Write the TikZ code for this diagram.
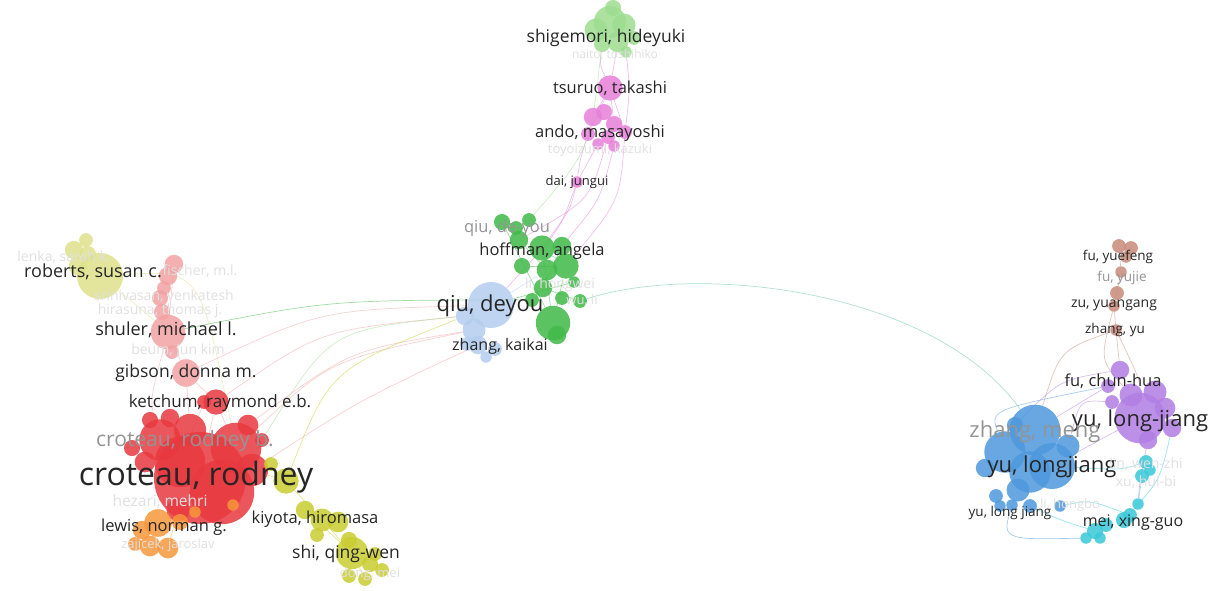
\documentclass[tikz,border=0pt]{standalone}
\usepackage{fontspec}
\setmainfont{Open Sans}
\usetikzlibrary{backgrounds}
\definecolor{cLG}{HTML}{9DDC8F}
\definecolor{cPK}{HTML}{E67FD8}
\definecolor{cGR}{HTML}{40B948}
\definecolor{cLB}{HTML}{B3CDEE}
\definecolor{cRD}{HTML}{E8383F}
\definecolor{cSA}{HTML}{F2A2A2}
\definecolor{cPY}{HTML}{DDE18A}
\definecolor{cOL}{HTML}{C9CC2F}
\definecolor{cOR}{HTML}{F7963A}
\definecolor{cBR}{HTML}{C68A79}
\definecolor{cPU}{HTML}{B17DE3}
\definecolor{cBL}{HTML}{4D98DC}
\definecolor{cCY}{HTML}{3AC8D8}
\definecolor{cARC}{HTML}{9ED8C4}
\tikzset{
  bub/.style={circle,inner sep=0pt,draw=none,fill=#1,fill opacity=0.85},
  lab/.style={inner sep=0pt,font=\fontsize{#1}{#1}\selectfont,text=black!85},
  dimlab/.style={text=black!42},
  faintlab/.style={text=black!12},
  lk/.style={draw=#1,line width=0.7pt,draw opacity=0.5},
}
\newcommand\bubl[5]{\node[bub=#2,minimum size={#5pt*1.15}] (#1) at (#3,#4) {};}
\begin{document}
\begin{tikzpicture}[x=1pt,y=-1pt]
\useasboundingbox (0,0) rectangle (1212,590);
% ---- top light green
\bubl{lg1}{cLG}{610}{22}{28}
\bubl{lg2}{cLG}{596}{30}{20}
\bubl{lg3}{cLG}{624}{25}{20}
\bubl{lg4}{cLG}{618}{42}{18}
\bubl{lg5}{cLG}{602}{44}{14}
\bubl{lg6}{cLG}{613}{8}{14}
\bubl{lg7}{cLG}{634}{38}{12}
\bubl{lg8}{cLG}{626}{52}{10}
% ---- pink
\bubl{pk1}{cPK}{610}{88}{22}
\bubl{pk2}{cPK}{593}{117}{16}
\bubl{pk3}{cPK}{604}{112}{14}
\bubl{pk4}{cPK}{614}{124}{14}
\bubl{pk5}{cPK}{588}{134}{12}
\bubl{pk6}{cPK}{625}{132}{12}
\bubl{pk7}{cPK}{608}{137}{12}
\bubl{pk8}{cPK}{614}{146}{10}
\bubl{pk9}{cPK}{598}{144}{10}
\bubl{pk10}{cPK}{577}{182}{10}
% ---- green
\bubl{gr1}{cGR}{502}{222}{14}
\bubl{gr2}{cGR}{516}{228}{12}
\bubl{gr3}{cGR}{529}{220}{12}
\bubl{gr4}{cGR}{519}{240}{16}
\bubl{gr5}{cGR}{542}{248}{22}
\bubl{gr6}{cGR}{562}{246}{16}
\bubl{gr7}{cGR}{566}{266}{22}
\bubl{gr8}{cGR}{547}{270}{18}
\bubl{gr9}{cGR}{522}{266}{14}
\bubl{gr10}{cGR}{543}{288}{16}
\bubl{gr11}{cGR}{562}{298}{12}
\bubl{gr12}{cGR}{580}{301}{12}
\bubl{gr13}{cGR}{532}{300}{12}
\bubl{gr14}{cGR}{553}{323}{30}
\bubl{gr15}{cGR}{557}{335}{16}
\bubl{gr16}{cGR}{574}{282}{10}
% ---- light blue
\bubl{lb1}{cLB}{491}{305}{40}
\bubl{lb2}{cLB}{474}{330}{20}
\bubl{lb3}{cLB}{465}{316}{16}
\bubl{lb4}{cLB}{478}{345}{16}
\bubl{lb5}{cLB}{495}{349}{12}
\bubl{lb6}{cLB}{486}{357}{10}
\bubl{lb7}{cLB}{467}{344}{12}
% ---- pale yellow
\bubl{py1}{cPY}{100}{276}{40}
\bubl{py2}{cPY}{74}{250}{16}
\bubl{py3}{cPY}{88}{254}{14}
\bubl{py4}{cPY}{78}{266}{16}
\bubl{py5}{cPY}{86}{240}{12}
% ---- salmon
\bubl{sa1}{cSA}{174}{264}{16}
\bubl{sa2}{cSA}{168}{276}{16}
\bubl{sa3}{cSA}{164}{288}{12}
\bubl{sa4}{cSA}{160}{298}{14}
\bubl{sa5}{cSA}{162}{312}{14}
\bubl{sa6}{cSA}{168}{332}{30}
\bubl{sa7}{cSA}{172}{352}{12}
\bubl{sa8}{cSA}{186}{373}{24}
% ---- red
\bubl{rd1}{cRD}{216}{402}{22}
\bubl{rd2}{cRD}{204}{402}{12}
\bubl{rd3}{cRD}{200}{478}{80}
\bubl{rd4}{cRD}{236}{448}{44}
\bubl{rd5}{cRD}{160}{440}{36}
\bubl{rd6}{cRD}{180}{462}{44}
\bubl{rd7}{cRD}{222}{492}{56}
\bubl{rd8}{cRD}{252}{470}{28}
\bubl{rd9}{cRD}{145}{462}{18}
\bubl{rd10}{cRD}{132}{448}{14}
\bubl{rd11}{cRD}{150}{420}{14}
\bubl{rd12}{cRD}{170}{418}{16}
\bubl{rd13}{cRD}{248}{425}{18}
\bubl{rd14}{cRD}{190}{430}{28}
\bubl{rd15}{cRD}{178}{510}{20}
\bubl{rd16}{cRD}{262}{440}{12}
% ---- olive
\bubl{ol1}{cOL}{286}{481}{22}
\bubl{ol2}{cOL}{271}{464}{12}
\bubl{ol3}{cOL}{305}{510}{16}
\bubl{ol4}{cOL}{322}{520}{20}
\bubl{ol5}{cOL}{338}{522}{18}
\bubl{ol6}{cOL}{317}{535}{12}
\bubl{ol7}{cOL}{349}{540}{14}
\bubl{ol8}{cOL}{352}{553}{28}
\bubl{ol9}{cOL}{370}{564}{14}
\bubl{ol10}{cOL}{349}{576}{12}
\bubl{ol11}{cOL}{365}{579}{12}
\bubl{ol12}{cOL}{382}{570}{12}
\bubl{ol13}{cOL}{375}{554}{12}
% ---- orange
\bubl{or1}{cOR}{158}{523}{24}
\bubl{or2}{cOR}{142}{530}{16}
\bubl{or3}{cOR}{150}{546}{18}
\bubl{or4}{cOR}{168}{548}{18}
\bubl{or5}{cOR}{135}{544}{12}
\bubl{or6}{cOR}{180}{522}{14}
\bubl{or7}{cOR}{195}{512}{10}
\bubl{or8}{cOR}{233}{505}{10}
% ---- brown
\bubl{br1}{cBR}{1119}{246}{12}
\bubl{br2}{cBR}{1131}{248}{12}
\bubl{br3}{cBR}{1126}{257}{10}
\bubl{br4}{cBR}{1121}{272}{10}
\bubl{br5}{cBR}{1117}{293}{12}
\bubl{br6}{cBR}{1114}{306}{10}
\bubl{br7}{cBR}{1116}{330}{10}
% ---- purple
\bubl{pu1}{cPU}{1120}{370}{16}
\bubl{pu2}{cPU}{1108}{386}{12}
\bubl{pu3}{cPU}{1131}{395}{20}
\bubl{pu4}{cPU}{1140}{418}{44}
\bubl{pu5}{cPU}{1172}{428}{16}
\bubl{pu6}{cPU}{1155}{392}{20}
\bubl{pu7}{cPU}{1165}{408}{18}
\bubl{pu8}{cPU}{1112}{402}{12}
\bubl{pu9}{cPU}{1148}{440}{16}
% ---- blue
\bubl{bl1}{cBL}{1035}{430}{44}
\bubl{bl2}{cBL}{1005}{452}{36}
\bubl{bl3}{cBL}{1052}{466}{40}
\bubl{bl4}{cBL}{1030}{472}{36}
\bubl{bl5}{cBL}{1018}{490}{20}
\bubl{bl6}{cBL}{996}{496}{12}
\bubl{bl7}{cBL}{1000}{506}{10}
\bubl{bl8}{cBL}{1012}{505}{10}
\bubl{bl9}{cBL}{1030}{506}{12}
\bubl{bl10}{cBL}{1060}{506}{10}
\bubl{bl11}{cBL}{985}{468}{16}
\bubl{bl12}{cBL}{1015}{425}{14}
\bubl{bl13}{cBL}{1068}{446}{20}
% ---- cyan
\bubl{cy1}{cCY}{1146}{462}{12}
\bubl{cy2}{cCY}{1142}{476}{12}
\bubl{cy3}{cCY}{1150}{470}{10}
\bubl{cy4}{cCY}{1138}{504}{10}
\bubl{cy5}{cCY}{1130}{515}{12}
\bubl{cy6}{cCY}{1124}{520}{14}
\bubl{cy7}{cCY}{1106}{525}{12}
\bubl{cy8}{cCY}{1095}{531}{14}
\bubl{cy9}{cCY}{1086}{538}{10}
\bubl{cy10}{cCY}{1100}{538}{10}
% ---- links
\begin{pgfonlayer}{background}
\draw[lk=cARC,draw opacity=0.8] (gr12) .. controls (700,262) and (935,290) .. (bl1);
\draw[lk=cSA] (rd4) .. controls (330,360) .. (lb2);
\draw[lk=cSA] (rd1) .. controls (320,330) .. (lb3);
\draw[lk=cSA] (sa8) .. controls (320,310) .. (lb1);
\draw[lk=cSA] (rd13) .. controls (350,350) .. (lb2);
\draw[lk=cSA] (rd8) .. controls (360,400) .. (lb4);
\draw[lk=cOL] (ol1) .. controls (330,370) .. (lb3);
\draw[lk=cLG] (rd16) .. controls (330,330) .. (lb3);
\draw[lk=cGR] (sa6) .. controls (330,300) .. (gr13);
% top chain
\draw[lk=cPK] (lg4) -- (pk1);
\draw[lk=cPK] (lg5) .. controls (600,65) .. (pk1);
\draw[lk=cPK] (lg8) .. controls (630,90) .. (pk6);
\draw[lk=cPK] (pk1) -- (pk2);
\draw[lk=cPK] (pk1) -- (pk4);
\draw[lk=cPK] (pk1) -- (pk6);
\draw[lk=cPK] (pk1) -- (pk5);
\draw[lk=cPK] (pk5) .. controls (580,160) .. (pk10);
\draw[lk=cPK] (pk9) -- (pk10);
\draw[lk=cPK] (pk10) .. controls (570,210) .. (gr5);
\draw[lk=cPK] (pk8) .. controls (600,200) .. (gr6);
\draw[lk=cPK] (pk6) .. controls (620,200) .. (gr7);
\draw[lk=cPK] (pk7) .. controls (590,200) .. (gr4);
\draw[lk=cPK] (pk10) .. controls (560,230) .. (lb1);
\draw[lk=cLG] (lg5) .. controls (590,150) .. (gr3);
% green internal
\draw[lk=cGR] (gr5) -- (gr7);
\draw[lk=cGR] (gr5) -- (gr14);
\draw[lk=cGR] (gr7) -- (gr14);
\draw[lk=cGR] (gr4) -- (gr8);
\draw[lk=cGR] (gr9) -- (gr7);
\draw[lk=cGR] (gr10) -- (gr12);
\draw[lk=cGR] (gr6) -- (gr10);
\draw[lk=cGR] (gr1) -- (gr14);
\draw[lk=cGR] (gr16) -- (lb1);
\draw[lk=cLB] (lb1) -- (gr8);
% left internal
\draw[lk=cSA] (sa1) -- (sa6);
\draw[lk=cSA] (sa6) -- (sa8);
\draw[lk=cSA] (sa8) -- (rd1);
\draw[lk=cSA] (sa6) .. controls (150,400) .. (rd5);
\draw[lk=cSA] (sa8) -- (rd14);
\draw[lk=cSA] (rd1) -- (rd4);
\draw[lk=cSA] (rd1) -- (rd3);
\draw[lk=cSA] (rd2) -- (rd6);
\draw[lk=cPY] (py1) .. controls (130,300) .. (sa6);
\draw[lk=cPY] (py1) .. controls (200,270) .. (rd4);
\draw[lk=cOL] (ol1) -- (ol4);
\draw[lk=cOL] (ol4) -- (ol8);
\draw[lk=cOL] (ol3) -- (ol8);
\draw[lk=cOL] (ol8) -- (ol11);
\draw[lk=cOL] (ol1) -- (rd8);
\draw[lk=cOR] (or1) -- (rd3);
\draw[lk=cOR] (or6) -- (rd7);
\draw[lk=cOR] (or8) -- (rd7);
\draw[lk=cOR] (or4) -- (rd15);
% right internal
\draw[lk=cBR] (br1) -- (br4);
\draw[lk=cBR] (br4) -- (br6);
\draw[lk=cBR] (br6) -- (br7);
\draw[lk=cBR] (br7) -- (pu1);
\draw[lk=cBR] (br6) .. controls (1100,360) .. (pu3);
\draw[lk=cBR] (br7) .. controls (1140,380) .. (pu4);
\draw[lk=cBR] (br7) .. controls (1060,350) .. (bl1);
\draw[lk=cPU] (pu2) -- (bl1);
\draw[lk=cPU] (pu8) .. controls (1080,400) .. (bl13);
\draw[lk=cPU] (pu1) .. controls (1060,380) .. (bl12);
\draw[lk=cPU] (pu4) -- (bl3);
\draw[lk=cPU] (pu9) .. controls (1140,480) .. (cy4);
\draw[lk=cCY] (cy1) .. controls (1120,470) .. (bl3);
\draw[lk=cCY] (cy2) -- (cy4);
\draw[lk=cCY] (cy5) .. controls (1090,500) .. (bl10);
\draw[lk=cCY] (cy8) .. controls (1060,520) .. (bl9);
\draw[lk=cCY] (cy6) .. controls (1160,480) .. (pu5);
\draw[lk=cBL] (bl5) .. controls (1000,540) .. (cy9);
\draw[lk=cBL] (bl2) .. controls (990,410) .. (pu2);
\end{pgfonlayer}
% ---- labels
\node[lab=17.5] (lshig) at (606,38) {shigemori, hideyuki};
\node[lab=12,faintlab] (lnaito) at (615,55) {naito, toshihiko};
\node[lab=16.5] (ltsur) at (610,88) {tsuruo, takashi};
\node[lab=16.5] (lando) at (600,133) {ando, masayoshi};
\node[lab=13,faintlab] (ltoyo) at (600,150) {toyoizumi, kazuki};
\node[lab=13] (ldai) at (577,182) {dai, jungui};
\node[lab=16.5,dimlab] (lqiude) at (507,228) {qiu, de-you};
\node[lab=16.5] (lhoff) at (542,251) {hoffman, angela};
\node[lab=14,faintlab] (llihong) at (560,285) {li, hongwei};
\node[lab=13,faintlab] (lwuli) at (582,300) {wu, li};
\node[lab=22] (lqiu) at (490,306) {qiu, deyou};
\node[lab=16] (lzhangk) at (500,346) {zhang, kaikai};
\node[lab=14,faintlab] (llenka) at (64,257) {lenka, sarah k.};
\node[lab=18] (lrob) at (93,272) {roberts, susan c.};
\node[lab=14,faintlab] (lfisch) at (200,271) {fischer, m.l.};
\node[lab=14,faintlab] (lsrini) at (164,296) {srinivasan, venkatesh};
\node[lab=14,faintlab] (lhira) at (160,311) {hirasuna, thomas j.};
\node[lab=18] (lshul) at (166,330) {shuler, michael l.};
\node[lab=14,faintlab] (lbeum) at (178,351) {beum, jun kim};
\node[lab=17.5] (lgib) at (186,373) {gibson, donna m.};
\node[lab=17] (lketch) at (220,403) {ketchum, raymond e.b.};
\node[lab=21,dimlab] (lcrob) at (185,441) {croteau, rodney b.};
\node[lab=32] (lcro) at (196,477) {croteau, rodney};
\node[lab=15.5,faintlab] (lhez) at (160,502) {hezari, mehri};
\node[lab=16.5] (llewis) at (164,527) {lewis, norman g.};
\node[lab=13,faintlab] (lzaj) at (168,545) {zajicek, jaroslav};
\node[lab=16.5] (lkiy) at (315,519) {kiyota, hiromasa};
\node[lab=17.5] (lshi) at (346,554) {shi, qing-wen};
\node[lab=13,faintlab] (ldong) at (370,574) {dong, mei};
\node[lab=13.5] (lfuy) at (1118,257) {fu, yuefeng};
\node[lab=13.5,dimlab] (lfuyj) at (1122,278) {fu, yujie};
\node[lab=14] (lzu) at (1114,305) {zu, yuangang};
\node[lab=13.5] (lzhyu) at (1115,330) {zhang, yu};
\node[lab=16.5] (lfuch) at (1113,381) {fu, chun-hua};
\node[lab=22] (lyulj) at (1140,421) {yu, long-jiang};
\node[lab=22,dimlab] (lzm) at (1035,432) {zhang, meng};
\node[lab=22] (lyul) at (1052,467) {yu, longjiang};
\node[lab=14,faintlab] (llin) at (1146,464) {lin, wen-zhi};
\node[lab=14,faintlab] (lxu) at (1146,482) {xu, hui-bi};
\node[lab=13,faintlab] (lhongbo) at (1070,505) {li, hongbo};
\node[lab=13.5] (lyulj2) at (1010,513) {yu, long jiang};
\node[lab=16] (lmei) at (1133,523) {mei, xing-guo};
\end{tikzpicture}
\end{document}
